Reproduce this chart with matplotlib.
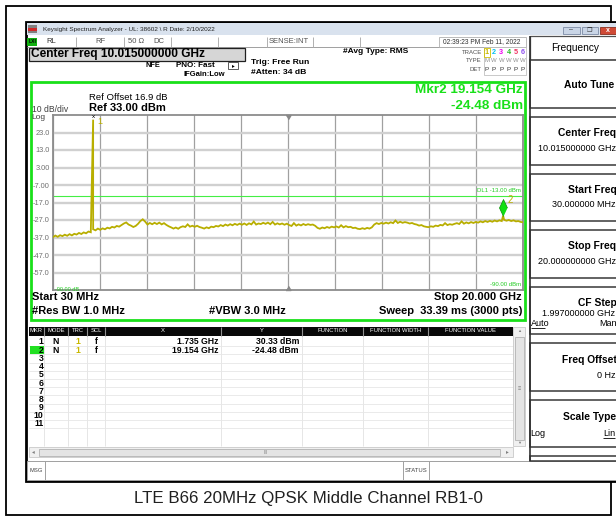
import numpy as np
import matplotlib
matplotlib.use('Agg')
import matplotlib.pyplot as plt
from matplotlib.patches import Rectangle

plt.rcParams['font.family'] = ['Liberation Sans', 'DejaVu Sans']

# ---------------- data ----------------
ref_level = 33.0
db_per_div = 10.0
f_start_ghz = 0.030
f_stop_ghz = 20.000
y_tick_labels = ['23.0', '13.0', '3.00', '-7.00', '-17.0', '-27.0', '-37.0', '-47.0', '-57.0']
display_line_dbm = -13.0
marker_ids = ['1', '2']
marker_freq_ghz = [1.735, 19.154]
marker_level_dbm = [30.33, -24.48]
trace_dbm = [
    -36.8, -35.9, -36.6, -35.7, -36.2, -35.4, -36.0, -35.1, -35.8, -34.9,
    -35.3, -34.4, -35.0, -34.1, -34.6, -33.6, -34.0, -32.3, -32.9, -31.9,
    -32.6, -31.8, -32.3, -31.4, -31.8, -30.9, -31.3, -30.4, -30.8, -29.9,
    -29.0, -28.4, -29.6, -30.2, -31.0, -30.4, -29.2, -27.6, -26.6, -27.9,
    -29.6, -28.7, -29.4, -28.6, -29.3, -28.5, -29.5, -28.8, -29.8, -30.6,
    -31.2, -31.9, -31.3, -32.0, -31.1, -30.6, -31.0, -29.5, -30.8, -30.3,
    -30.9, -30.3, -31.0, -31.4, -31.9, -31.2, -31.7, -30.8, -31.1, -30.4,
    -30.7, -29.9, -30.5, -29.6, -30.2, -29.4, -30.0, -29.2, -29.8, -29.1,
    -29.7, -29.0, -29.8, -28.9, -29.5, -27.9, -29.6, -29.0, -29.3, -28.6,
    -29.2, -28.5, -29.4, -28.1, -29.6, -28.9, -29.5, -29.0, -29.7, -29.1,
    -29.9, -30.4, -28.8, -30.2, -29.5, -30.1, -29.3, -29.9, -29.4, -29.8,
    -29.6, -30.3, -31.5, -32.0, -31.3, -31.7, -31.0, -31.5, -30.8, -31.2,
    -30.7, -31.3, -30.0, -31.2, -30.5, -31.1, -30.9, -31.6, -31.4, -32.0,
    -32.2, -31.7, -32.1, -31.5, -31.9, -31.2, -29.6, -28.8, -29.3, -28.7,
    -29.1, -28.5, -29.0, -28.3, -28.8, -27.3, -28.7, -28.0, -28.6, -28.2,
    -28.5, -29.0, -28.7, -29.3, -29.6, -30.2, -29.9, -30.6, -30.9, -31.1,
    -30.6, -30.9, -30.2, -30.5, -29.8, -30.1, -28.8, -29.9, -29.4, -29.7,
    -29.2, -28.8, -29.3, -27.8, -29.1, -28.4, -28.9, -28.2, -28.7, -28.1,
    -28.5, -27.8, -28.3, -27.6, -28.1, -27.5, -28.0, -27.3, -27.8, -27.2,
    -27.6, -26.9, -27.4, -27.0, -27.6, -27.2, -27.8, -27.6, -28.1, -28.3,
]
table_x = ['1.735 GHz', '19.154 GHz']
table_y = ['30.33 dBm', '-24.48 dBm']
table_headers = ['MKR', 'MODE', 'TRC', 'SCL', 'X', 'Y', 'FUNCTION', 'FUNCTION WIDTH', 'FUNCTION VALUE']
softkey_titles = ['Center Freq', 'Start Freq', 'Stop Freq']
softkey_values = ['10.015000000 GHz', '30.000000 MHz', '20.000000000 GHz']
caption = 'LTE B66 20MHz QPSK Middle Channel RB1-0'

# ---------------- figure ----------------
W, H = 616, 520
fig = plt.figure(figsize=(6.16, 5.2), dpi=100)
fig.patch.set_facecolor('white')
bg = fig.add_axes([0, 0, 1, 1])
bg.set_xlim(0, W)
bg.set_ylim(H, 0)
bg.axis('off')

GREEN = '#19e019'
OLIVE = '#b8ae00'


def rect(x0, y0, x1, y1, fc='none', ec='none', lw=0.8, z=1):
    bg.add_patch(Rectangle((x0, y0), x1 - x0, y1 - y0, facecolor=fc,
                           edgecolor=ec, linewidth=lw, zorder=z))


def line(x0, y0, x1, y1, color='#a0a0a0', lw=0.8, z=2):
    bg.plot([x0, x1], [y0, y1], color=color, lw=lw, zorder=z, solid_capstyle='butt')


def txt(x, y, s, size=6, ha='left', va='center', color='black', weight='normal', z=5):
    bg.text(x, y, s, fontsize=size, ha=ha, va=va, color=color,
            fontweight=weight, zorder=z)


# outer frame
rect(5.5, 5.5, 611, 515, ec='black', lw=1.3, z=0)

# window
rect(25.5, 21.5, 640, 481, fc='white', ec='black', lw=2, z=0.5)
# title bar
rect(26.5, 23, 616, 35, fc='#d9e2ee', z=1)
rect(28, 25, 37, 33, fc='#808080', z=2)
rect(28, 28, 37, 30.5, fc='#d02828', z=3)
txt(43, 29.3, 'Keysight Spectrum Analyzer - UL: 38602 \\ R Date: 2/10/2022', size=4.6, color='#202020')
rect(563, 26.5, 579.5, 33.5, fc='#c9d5e6', ec='#7d8ca6', lw=0.6, z=2)
txt(571, 30, '–', size=5, ha='center', color='#303030')
rect(581.5, 26.5, 597.5, 33.5, fc='#c9d5e6', ec='#7d8ca6', lw=0.6, z=2)
txt(589.5, 30, '❐', size=4.5, ha='center', color='#303030')
rect(599.5, 26.5, 617, 33.5, fc='#cf4a36', ec='#8a3020', lw=0.6, z=2)
txt(607.5, 30, 'x', size=5, ha='center', color='white', weight='bold')

# status row
line(26.5, 47, 526, 47, color='#a0a0a0', lw=0.7)
rect(27.3, 37.5, 37.3, 46, fc='#10b010', z=2)
txt(32.3, 41.7, 'LXI', size=3.6, ha='center', weight='bold')
txt(46, 41.7, 'RL', size=5.5, color='#303030')
txt(95, 41.7, 'RF', size=5.5, color='#505050')
txt(128.5, 41.7, '50 Ω', size=5.5, color='#505050')
txt(153.5, 41.7, 'DC', size=5.5, color='#505050')
txt(268.5, 41.7, 'SENSE:INT', size=5.5, color='#505050')
for xs in [76, 124, 170.7, 218.3, 266.7, 313.3, 360]:
    line(xs, 36.5, xs, 46.5, color='#b0b0b0', lw=0.7)
rect(438.5, 37, 526, 46.5, ec='#b0b0b0', lw=0.6, z=2)
txt(482, 41.7, '02:39:23 PM Feb 11, 2022', size=4.8, ha='center', color='#303030')

# center freq box
rect(29.3, 47.7, 245, 60.7, fc='#d6d6d6', ec='#202020', lw=0.9, z=2)
txt(30.8, 54.3, 'Center Freq 10.015000000 GHz', size=8.6, weight='bold')

# settings text
txt(146, 65.3, 'NFE', size=5.3, weight='bold')
txt(176, 65.3, 'PNO: Fast', size=5.8, weight='bold')
txt(183, 74.3, 'IFGain:Low', size=5.5, weight='bold')
rect(228, 62, 238, 68.5, ec='#404040', lw=0.6, z=2)
txt(233, 65.5, '▸', size=4, ha='center')
txt(250.7, 62.3, 'Trig: Free Run', size=6.1, weight='bold')
txt(250.7, 72.3, '#Atten: 34 dB', size=6.1, weight='bold')
txt(342.7, 51.7, '#Avg Type: RMS', size=6.0, weight='bold')

# trace info block
rect(483.5, 47, 526, 74.5, ec='#c0c0c0', lw=0.6, z=2)
txt(482, 52.3, 'TRACE', size=4.3, ha='right', color='#505050')
txt(482, 61, 'TYPE', size=4.3, ha='right', color='#505050')
txt(482, 69.3, 'DET', size=4.3, ha='right', color='#505050')
tr_x = [486.7, 494, 501.3, 508.5, 515.7, 523]
tr_col = ['#c8b800', '#00c0f0', '#f000f0', '#20c020', '#f03060', '#9050f0']
rect(484, 48.3, 490, 56.5, ec='#d0c000', lw=0.6, z=2)
for i in range(6):
    txt(tr_x[i], 52.3, str(i + 1), size=5.2, ha='center', color=tr_col[i], weight='bold')
    txt(tr_x[i], 61, 'M' if i == 0 else 'W', size=4.3, ha='center', color='#909090')
    txt(tr_x[i], 69.3, 'P', size=4.5, ha='center', color='#303030')

# green measurement frame
rect(30.5, 82, 524.5, 320, ec=GREEN, lw=2, z=3)
txt(89.3, 97.5, 'Ref Offset 16.9 dB', size=6.8)
txt(89.3, 107.8, 'Ref 33.00 dBm', size=8, weight='bold')
txt(31.7, 109.3, '10 dB/div', size=6.2, color='#404040')
txt(31.7, 117.6, 'Log', size=6.0, color='#404040')
txt(522.7, 90, 'Mkr2 19.154 GHz', size=9.7, ha='right', weight='bold', color=GREEN)
txt(522.7, 105.7, '-24.48 dBm', size=9.7, ha='right', weight='bold', color=GREEN)

txt(31.7, 297, 'Start 30 MHz', size=8, weight='bold')
txt(31.7, 311, '#Res BW 1.0 MHz', size=8, weight='bold')
txt(209, 311, '#VBW 3.0 MHz', size=8, weight='bold')
txt(522, 297, 'Stop 20.000 GHz', size=8, ha='right', weight='bold')
txt(522.7, 311, 'Sweep  33.39 ms (3000 pts)', size=8, ha='right', weight='bold')

# ---------------- spectrum axes ----------------
ax = fig.add_axes([53 / W, 1 - 290 / H, 470 / W, 175 / H])
ax.set_facecolor('white')
ax.set_xlim(f_start_ghz, f_stop_ghz)
ax.set_ylim(ref_level - 10 * db_per_div, ref_level)
ax.set_xticks(np.linspace(f_start_ghz, f_stop_ghz, 11))
ax.set_yticks(ref_level - db_per_div * np.arange(1, 10))
ax.set_yticklabels(y_tick_labels)
ax.set_xticklabels([])
ax.tick_params(length=0, pad=2.3, labelsize=5.3, labelcolor='#707070')
ax.xaxis.grid(True, color='#a0a0a0', lw=0.9)
ax.yaxis.grid(True, color='#d0d0d0', lw=1.7)
ax.set_axisbelow(True)
for s in ax.spines.values():
    s.set_color('#8c8c8c')
    s.set_linewidth(1.3)

sweep = np.linspace(f_start_ghz, f_stop_ghz, len(trace_dbm))
fx = np.concatenate([sweep, marker_freq_ghz])
fy = np.concatenate([trace_dbm, marker_level_dbm])
order = np.argsort(fx, kind='stable')
ax.plot(fx[order], fy[order], color=OLIVE, lw=1.3, zorder=3, solid_joinstyle='miter')

ax.axhline(display_line_dbm, color='#44ee44', lw=0.8, zorder=2)
ax.text(0.995, display_line_dbm + 1.5, 'DL1 -13.00 dBm', transform=ax.get_yaxis_transform(),
        ha='right', va='bottom', fontsize=4.3, color='#22cc22')
ax.text(0.995, ref_level - 10 * db_per_div + 1.5, '-90.00 dBm', transform=ax.get_yaxis_transform(),
        ha='right', va='bottom', fontsize=4.3, color='#22cc22')
ax.text(0.005, ref_level - 10 * db_per_div + 0.3, '-90.00 dB', transform=ax.get_yaxis_transform(),
        ha='left', va='center', fontsize=4.0, color='#22cc22')

# center triangles
fcen = (f_start_ghz + f_stop_ghz) / 2
ax.plot([fcen], [ref_level], marker=[(-3, 0), (3, 0), (0, -5)], ms=6, color='#888888',
        clip_on=False, zorder=4, lw=0)
ax.plot([fcen], [ref_level - 10 * db_per_div], marker=[(-3, 0), (3, 0), (0, 5)], ms=6,
        color='#888888', clip_on=False, zorder=4, lw=0)

# marker 1
ax.annotate('x', xy=(marker_freq_ghz[0], marker_level_dbm[0]), xytext=(0, 2.0),
            textcoords='offset points', ha='center', va='center', fontsize=4.5, color='black',
            annotation_clip=False)
ax.annotate(marker_ids[0], xy=(marker_freq_ghz[0], marker_level_dbm[0]), xytext=(5, -1.5),
            textcoords='offset points', ha='center', va='center', fontsize=6.5, color=OLIVE,
            annotation_clip=False)
# marker 2
ax.plot([marker_freq_ghz[1]], [marker_level_dbm[1]],
        marker=[(0, 0), (-4, 8.5), (0, 17), (4, 8.5)], ms=24.5, color='#10e010',
        mec='#089008', mew=0.5, lw=0, zorder=5)
ax.annotate(marker_ids[1], xy=(marker_freq_ghz[1], marker_level_dbm[1]), xytext=(5.2, 11.5),
            textcoords='offset points', ha='center', va='center', fontsize=7, color=OLIVE)

# ---------------- marker table ----------------
col_b = [28.5, 44, 68, 87, 105, 221, 302, 363, 428, 513]
rect(28.5, 326.5, 513, 335.5, fc='#080808', z=2)
for i, h in enumerate(table_headers):
    txt((col_b[i] + col_b[i + 1]) / 2, 331, h, size=4.2, ha='center', color='white')
for xb in col_b[1:-1]:
    line(xb, 326.5, xb, 335.5, color='#909090', lw=0.8, z=3)
    line(xb, 335.5, xb, 446, color='#e2e2e2', lw=0.6, z=1.5)
row_y = [342 + 8.2 * i for i in range(11)]
for yy in row_y:
    line(28.5, yy + 4.1, 513, yy + 4.1, color='#e6e6e6', lw=0.6, z=1.5)
rect(29.5, row_y[1] - 4, 44, row_y[1] + 4, fc='#22e022', z=2)
for i, yy in enumerate(row_y):
    txt(43.5, yy, str(i + 1), size=6.2, ha='right', weight='bold')
for i in range(len(marker_ids)):
    yy = row_y[i]
    txt(56, yy, 'N', size=6.2, ha='center', weight='bold')
    txt(78, yy, '1', size=6.2, ha='center', weight='bold', color='#c8b800')
    txt(96, yy, 'f', size=6.2, ha='center', weight='bold')
    txt(218.3, yy, table_x[i], size=6.2, ha='right', weight='bold')
    txt(299, yy, table_y[i], size=6.2, ha='right', weight='bold')
# scrollbars
rect(513, 326.5, 525, 446, fc='#f0f0f0', ec='#c0c0c0', lw=0.5, z=2)
txt(519, 331, '▲', size=3, ha='center', color='#808080')
rect(514.5, 337, 523.5, 440, fc='#e4e4e4', ec='#a8a8a8', lw=0.5, z=2.5)
txt(519, 389, '≡', size=4, ha='center', color='#808080')
txt(519, 443, '▼', size=3, ha='center', color='#808080')
rect(28.5, 447, 513, 457, fc='#f0f0f0', ec='#c0c0c0', lw=0.5, z=2)
txt(33, 452, '◂', size=4, ha='center', color='#808080')
rect(39, 448.5, 500, 455.5, fc='#e4e4e4', ec='#a8a8a8', lw=0.5, z=2.5)
txt(266, 452, 'III', size=3.5, ha='center', color='#808080')
txt(507, 452, '▸', size=4, ha='center', color='#808080')

# message bar
rect(27, 461, 616, 480, fc='white', ec='#a0a0a0', lw=0.7, z=2)
line(44.5, 461, 44.5, 480, color='#a0a0a0', lw=0.7, z=3)
line(402.5, 461, 402.5, 480, color='#a0a0a0', lw=0.7, z=3)
line(428.5, 461, 428.5, 480, color='#a0a0a0', lw=0.7, z=3)
txt(29.5, 470.5, 'MSG', size=4.2, color='#404040')
txt(404.5, 470.5, 'STATUS', size=4.2, color='#404040')

# ---------------- softkey panel ----------------
line(529.5, 36, 529.5, 461, color='#303030', lw=1.2, z=3)
rect(530, 36, 620, 60, fc='white', ec='#505050', lw=0.9, z=2)
txt(575, 48.3, 'Frequency', size=7.3, ha='center')
tops = [60, 117.3, 173.8, 230.3, 286.8, 343.3, 399.8, 456.3]
for t in tops:
    bot = min(t + 47.5, 461)
    rect(530, t, 620, bot, fc='white', ec='#383838', lw=1.1, z=2)
txt(614.5, 85, 'Auto Tune', size=7.4, ha='right', weight='bold')
for i in range(3):
    t = tops[i + 1]
    txt(616.5, t + 16, softkey_titles[i], size=7.4, ha='right', weight='bold')
    txt(615.5, t + 31, softkey_values[i], size=6.5, ha='right')
t = tops[4]
txt(616.5, t + 16.2, 'CF Step', size=7.4, ha='right', weight='bold')
txt(615.5, t + 27.2, '1.997000000 GHz', size=6.5, ha='right')
txt(530.5, t + 37.2, 'Auto', size=6.5)
line(530.5, t + 41.5, 545, t + 41.5, color='black', lw=0.6, z=3)
txt(616.5, t + 37.2, 'Man', size=6.5, ha='right')
t = tops[5]
txt(616.5, t + 16.7, 'Freq Offset', size=7.4, ha='right', weight='bold')
txt(615.5, t + 32.7, '0 Hz', size=6.5, ha='right')
t = tops[6]
txt(616.5, t + 17.2, 'Scale Type', size=7.4, ha='right', weight='bold')
txt(530.5, t + 34.2, 'Log', size=6.5)
txt(615, t + 34.2, 'Lin', size=6.5, ha='right')
line(603, t + 38.5, 615, t + 38.5, color='black', lw=0.6, z=3)

# caption
txt(308, 499, caption, size=12.2, ha='center', color='#202020')

fig.savefig('out.png', dpi=100, facecolor='white')
